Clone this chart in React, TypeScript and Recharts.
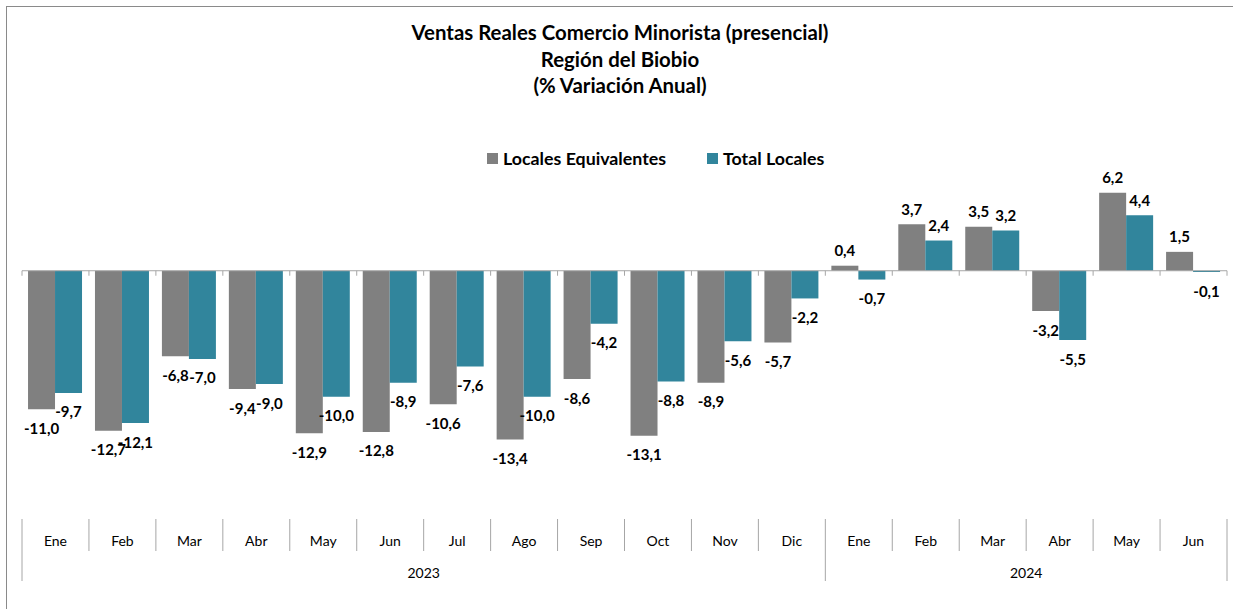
import React from 'react';
import { BarChart, Bar, XAxis, YAxis, ReferenceLine, LabelList } from 'recharts';

const months = ['Ene', 'Feb', 'Mar', 'Abr', 'May', 'Jun', 'Jul', 'Ago', 'Sep', 'Oct', 'Nov', 'Dic', 'Ene', 'Feb', 'Mar', 'Abr', 'May', 'Jun'];
const yearGroups = [
  { label: '2023', start: 0, end: 11 },
  { label: '2024', start: 12, end: 17 },
];
const localesEquivalentes = [-11.0, -12.7, -6.8, -9.4, -12.9, -12.8, -10.6, -13.4, -8.6, -13.1, -8.9, -5.7, 0.4, 3.7, 3.5, -3.2, 6.2, 1.5];
const totalLocales = [-9.7, -12.1, -7.0, -9.0, -10.0, -8.9, -7.6, -10.0, -4.2, -8.8, -5.6, -2.2, -0.7, 2.4, 3.2, -5.5, 4.4, -0.1];
const seriesNames = ['Locales Equivalentes', 'Total Locales'];
const seriesColors = ['#808080', '#31859C'];
const titleLines = ['Ventas Reales Comercio Minorista (presencial)', 'Región del Biobio', '(% Variación Anual)'];

const data = months.map((m, i) => ({
  idx: i,
  month: m,
  eq: localesEquivalentes[i],
  tot: totalLocales[i],
}));

const W = 1233;
const H = 609;
const ML = 22;
const MR = 6;
const MT = 170;
const PLOT_BOTTOM = 510;
const CAT_W = (W - ML - MR) / months.length;
const FONT = 'Lato, "Open Sans", sans-serif';
const AXIS_GRAY = '#a6a6a6';

const fmt = (v: number) => v.toFixed(1).replace('.', ',');

const makeLabel = (props: any) => {
  const { x, y, width, height, value } = props;
  const v = Number(value);
  const top = Math.min(y, y + height);
  const bottom = Math.max(y, y + height);
  const cx = x + width / 2;
  const ty = v < 0 ? bottom + 18.5 : top - 15.5;
  return (
    <text x={cx} y={ty} textAnchor="middle" dominantBaseline="central" fontFamily={FONT} fontWeight={700} fontSize={15} fill="#000">
      {fmt(v)}
    </text>
  );
};

const MonthTick = (props: any) => {
  const { x, y, payload, index } = props;
  const i = typeof index === 'number' ? index : Number(payload.value);
  const left = x - CAT_W / 2;
  const right = x + CAT_W / 2;
  const isGroupStart = yearGroups.some((g) => g.start === i);
  const els: any[] = [];
  els.push(<line key="l" x1={left} x2={left} y1={y + 1} y2={isGroupStart ? y + 63 : y + 33} stroke={AXIS_GRAY} strokeWidth={1} />);
  if (i === months.length - 1) {
    els.push(<line key="r" x1={right} x2={right} y1={y + 1} y2={y + 63} stroke={AXIS_GRAY} strokeWidth={1} />);
  }
  els.push(
    <text key="t" x={x} y={y + 22} textAnchor="middle" dominantBaseline="central" fontFamily={FONT} fontSize={14} fill="#000">
      {months[i]}
    </text>
  );
  yearGroups.forEach((g) => {
    const c = (g.start + g.end) / 2;
    if (Math.floor(c) === i) {
      els.push(
        <text key={'y' + g.label} x={x + (c - i) * CAT_W} y={y + 54} textAnchor="middle" dominantBaseline="central" fontFamily={FONT} fontSize={14} fill="#000">
          {g.label}
        </text>
      );
    }
  });
  return <g>{els}</g>;
};

const ZeroLine = (props: any) => {
  const { x1, x2, y1 } = props;
  const n = months.length;
  const step = (x2 - x1) / n;
  const ticks = [];
  for (let k = 0; k <= n; k++) {
    const tx = x1 + k * step;
    ticks.push(<line key={k} x1={tx} x2={tx} y1={y1} y2={y1 + 5} stroke={AXIS_GRAY} strokeWidth={1} />);
  }
  return (
    <g>
      <line x1={x1} x2={x2} y1={y1} y2={y1} stroke={AXIS_GRAY} strokeWidth={1} />
      {ticks}
    </g>
  );
};

export default function App() {
  return (
    <div style={{ position: 'absolute', left: 0, top: 0, width: W, height: H, overflow: 'hidden', background: '#fff' }}>
      <div style={{ position: 'absolute', left: 6, top: 6, width: 1260, height: 640, border: '1.5px solid #8a8a8a', boxSizing: 'border-box' }} />
      <div style={{ position: 'absolute', left: 0, top: 19, width: 1240, textAlign: 'center', fontFamily: FONT, fontWeight: 700, fontSize: 20.4, lineHeight: '26.5px', color: '#000' }}>
        {titleLines.map((t) => (
          <div key={t}>{t}</div>
        ))}
      </div>
      <div style={{ position: 'absolute', left: 487, top: 146, height: 24, display: 'flex', alignItems: 'center', fontFamily: FONT, fontWeight: 700, fontSize: 17.8, color: '#000' }}>
        {seriesNames.map((n, k) => (
          <div key={n} style={{ display: 'flex', alignItems: 'center', marginRight: k === 0 ? 41 : 0 }}>
            <div style={{ width: 11, height: 11, background: seriesColors[k], marginRight: 5 }} />
            <span>{n}</span>
          </div>
        ))}
      </div>
      <div style={{ position: 'absolute', left: 0, top: 0 }}>
        <BarChart
          width={W}
          height={H}
          data={data}
          margin={{ top: MT, right: MR, left: ML, bottom: 0 }}
          barCategoryGap="9%"
          barGap={0}
        >
          <YAxis hide domain={[-19, 8]} allowDataOverflow type="number" />
          <XAxis
            dataKey="idx"
            type="category"
            axisLine={false}
            tickLine={false}
            interval={0}
            height={H - PLOT_BOTTOM}
            tick={<MonthTick />}
          />
          <Bar dataKey="eq" name={seriesNames[0]} fill={seriesColors[0]} isAnimationActive={false}>
            <LabelList dataKey="eq" content={makeLabel} />
          </Bar>
          <Bar dataKey="tot" name={seriesNames[1]} fill={seriesColors[1]} isAnimationActive={false}>
            <LabelList dataKey="tot" content={makeLabel} />
          </Bar>
          <ReferenceLine y={0} stroke={AXIS_GRAY} shape={<ZeroLine />} />
        </BarChart>
      </div>
    </div>
  );
}
